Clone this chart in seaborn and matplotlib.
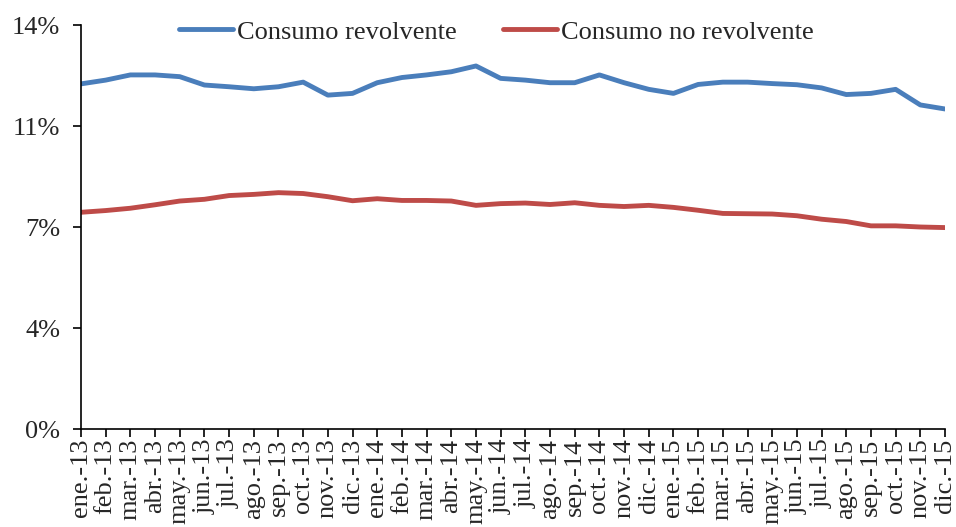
import matplotlib
matplotlib.use("Agg")
import matplotlib.pyplot as plt
import seaborn as sns
import pandas as pd
import numpy as np

months = ["ene.", "feb.", "mar.", "abr.", "may.", "jun.", "jul.", "ago.", "sep.", "oct.", "nov.", "dic."]
years = ["13", "14", "15"]
labels = [f"{m}-{y}" for y in years for m in months]

revolvente = [11.96, 12.09, 12.27, 12.27, 12.21, 11.92, 11.86, 11.79, 11.86, 12.02, 11.57, 11.63,
              12.00, 12.18, 12.27, 12.38, 12.58, 12.15, 12.09, 12.00, 12.00, 12.27, 12.00, 11.77,
              11.63, 11.94, 12.02, 12.02, 11.97, 11.93, 11.82, 11.59, 11.63, 11.77, 11.23, 11.09]
no_revolvente = [7.51, 7.57, 7.65, 7.77, 7.90, 7.96, 8.09, 8.13, 8.19, 8.16, 8.05, 7.91,
                 7.98, 7.92, 7.92, 7.90, 7.75, 7.81, 7.83, 7.78, 7.84, 7.75, 7.71, 7.75,
                 7.68, 7.58, 7.47, 7.46, 7.45, 7.39, 7.27, 7.19, 7.04, 7.04, 7.00, 6.98]

series_names = ["Consumo revolvente", "Consumo no revolvente"]
colors = ["#4A7EBB", "#BE4B48"]
y_ticks = [0, 3.5, 7, 10.5, 14]
y_ticklabels = ["0%", "4%", "7%", "11%", "14%"]

df = pd.DataFrame({
    "idx": list(range(len(labels))) * 2,
    "valor": revolvente + no_revolvente,
    "serie": [series_names[0]] * len(labels) + [series_names[1]] * len(labels),
})

sns.set_style("white")
plt.rcParams["font.family"] = ["Liberation Serif", "DejaVu Serif"]

fig = plt.figure(figsize=(9.56, 5.27), dpi=100)
ax = fig.add_axes([81/956, 1 - 429/527, (945 - 81)/956, (429 - 25)/527])

sns.lineplot(data=df, x="idx", y="valor", hue="serie", palette=colors,
             linewidth=3.5, ax=ax, legend=True)

ax.set_xlim(0, len(labels) - 1)
ax.set_ylim(0, 14)
ax.set_yticks(y_ticks)
ax.set_yticklabels(y_ticklabels)
ax.set_xticks(range(len(labels)))
ax.set_xticklabels(labels, rotation=90, va="top", ha="center")
ax.set_xlabel("")
ax.set_ylabel("")

for s in ["top", "right"]:
    ax.spines[s].set_visible(False)
for s in ["left", "bottom"]:
    ax.spines[s].set_color("black")
    ax.spines[s].set_linewidth(1.2)

ax.tick_params(axis="y", which="major", direction="out", length=6, width=1.2,
               color="black", labelsize=19, pad=9, left=True)
ax.tick_params(axis="x", which="major", direction="out", length=6, width=1.2,
               color="black", labelsize=19, pad=1, bottom=True)

leg = ax.legend(loc="center", bbox_to_anchor=(0.481, 0.983), ncol=2, frameon=False,
                fontsize=19, handlelength=2.05, handletextpad=0.15, columnspacing=1.75,
                borderaxespad=0)
for line in leg.get_lines():
    line.set_linewidth(3.5)

fig.savefig("out.png", dpi=100)
